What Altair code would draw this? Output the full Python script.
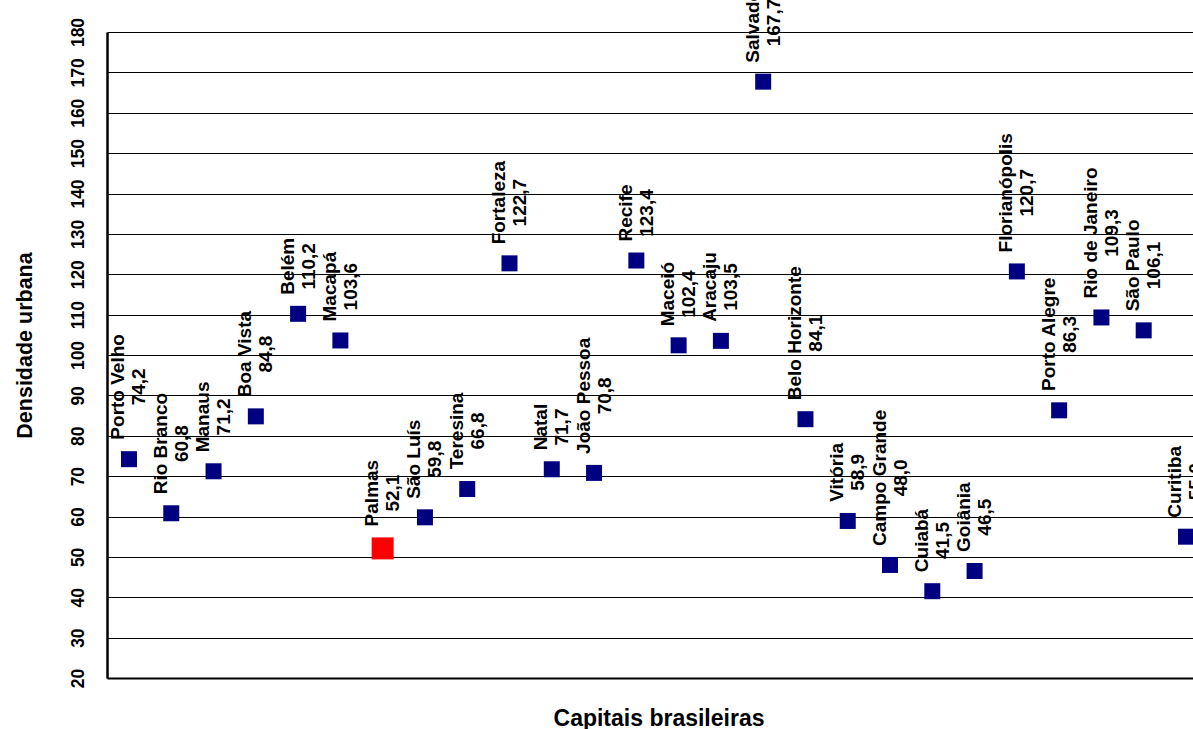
import unicodedata

import altair as alt
import pandas as pd

# Densidade urbana das capitais brasileiras, na ordem do eixo
cidades = [
    "Porto Velho", "Rio Branco", "Manaus", "Boa Vista", "Belém", "Macapá",
    "Palmas", "São Luís", "Teresina", "Fortaleza", "Natal", "João Pessoa",
    "Recife", "Maceió", "Aracaju", "Salvador", "Belo Horizonte", "Vitória",
    "Campo Grande", "Cuiabá", "Goiânia", "Florianópolis", "Porto Alegre",
    "Rio de Janeiro", "São Paulo", "Curitiba",
]
densidade = [
    74.2, 60.8, 71.2, 84.8, 110.2, 103.6,
    52.1, 59.8, 66.8, 122.7, 71.7, 70.8,
    123.4, 102.4, 103.5, 167.7, 84.1, 58.9,
    48.0, 41.5, 46.5, 120.7, 86.3,
    109.3, 106.1, 55.0,
]
destaque = "Palmas"
y_ticks = list(range(20, 181, 10))

FONT = "Liberation Sans, Arial, Helvetica, sans-serif"
LABEL_SIZE = 19
PLOT_W, PLOT_H = 1086, 646
Y_MIN, Y_MAX = 20, 180

# Larguras aproximadas (1/1000 em) de Arial negrito, para centrar os rótulos
LARGURA = {
    " ": 278, ",": 278, ".": 278,
    "A": 722, "B": 722, "C": 722, "F": 611, "G": 778, "H": 722, "J": 556,
    "M": 833, "N": 722, "P": 667, "R": 722, "S": 667, "T": 611, "V": 667,
    "a": 556, "b": 611, "c": 556, "d": 611, "e": 556, "f": 333, "g": 611,
    "h": 611, "i": 278, "j": 278, "l": 278, "m": 889, "n": 611, "o": 611,
    "p": 611, "r": 389, "s": 556, "t": 333, "u": 611, "v": 556, "z": 500,
}


def largura_texto(txt, size):
    total = 0
    for ch in txt:
        base = unicodedata.normalize("NFD", ch)[0]
        total += LARGURA.get(base, 556)
    return total / 1000 * size


valores_txt = [f"{v:.1f}".replace(".", ",") for v in densidade]

df = pd.DataFrame({
    "ordem": list(range(len(cidades))),
    "cidade": cidades,
    "densidade": densidade,
    "valor": valores_txt,
})

# O bloco de rótulo começa a 11 px acima da borda do quadrado; as duas
# linhas ficam centradas entre si. A distância em px vira unidades do eixo.
px_por_unidade = PLOT_H / (Y_MAX - Y_MIN)
meio_quadrado = [11 if c == destaque else 8 for c in cidades]
df["y_rotulo"] = [
    v + (m + 11 + max(largura_texto(c, LABEL_SIZE), largura_texto(t, LABEL_SIZE)) / 2) / px_por_unidade
    for v, c, t, m in zip(densidade, cidades, valores_txt, meio_quadrado)
]

escala_x = alt.Scale(domain=[-0.52, 25.166], nice=False, zero=False)
escala_y = alt.Scale(domain=[Y_MIN, Y_MAX], nice=False, zero=False)

eixo_x = alt.Axis(
    title="Capitais brasileiras", labels=False, ticks=False, grid=False,
    domainColor="black", domainWidth=2,
    titleX=551.5, titleY=47, titleBaseline="alphabetic", titleAlign="center",
    titleFontSize=23,
)
eixo_y = alt.Axis(
    title="Densidade urbana", values=y_ticks, ticks=False, tickSize=0,
    labelAngle=270, labelAlign="center", labelBaseline="alphabetic",
    labelPadding=24, labelFontSize=17.5, labelOverlap=False,
    grid=True, gridColor="black", gridWidth=1, gridOpacity=1,
    domainColor="black", domainWidth=2.5,
    titleAngle=270, titleX=-76, titleY=313, titleBaseline="alphabetic",
    titleAlign="center", titleFontSize=21.5,
)

pontos = alt.Chart(df).mark_point(shape="square", filled=True, opacity=1).encode(
    x=alt.X("ordem:Q", scale=escala_x, axis=eixo_x),
    y=alt.Y("densidade:Q", scale=escala_y, axis=eixo_y),
    color=alt.condition(alt.datum.cidade == destaque, alt.value("#FF0000"), alt.value("#000080")),
    size=alt.condition(alt.datum.cidade == destaque, alt.value(484), alt.value(256)),
)

rotulo_base = alt.Chart(df).encode(
    x=alt.X("ordem:Q", scale=escala_x, axis=eixo_x),
    y=alt.Y("y_rotulo:Q", scale=escala_y, axis=eixo_y),
)

nomes = rotulo_base.mark_text(
    angle=270, align="center", baseline="middle", dy=-10.5,
    font=FONT, fontSize=LABEL_SIZE, fontWeight="bold", color="black",
).encode(text="cidade:N")

valores = rotulo_base.mark_text(
    angle=270, align="center", baseline="middle", dy=10.5,
    font=FONT, fontSize=LABEL_SIZE, fontWeight="bold", color="black",
).encode(text="valor:N")

chart = (
    alt.layer(pontos, nomes, valores)
    .properties(
        width=PLOT_W, height=PLOT_H,
        autosize=alt.AutoSizeParams(type="none"),
        padding={"left": 107, "top": 32, "right": 0, "bottom": 51},
        background="white",
    )
    .configure_view(stroke=None)
    .configure_axis(
        labelFont=FONT, titleFont=FONT, labelFontWeight="bold",
        titleFontWeight="bold", labelColor="black", titleColor="black",
    )
)

chart.save("out.html", embed_options={"renderer": "svg", "actions": False})
